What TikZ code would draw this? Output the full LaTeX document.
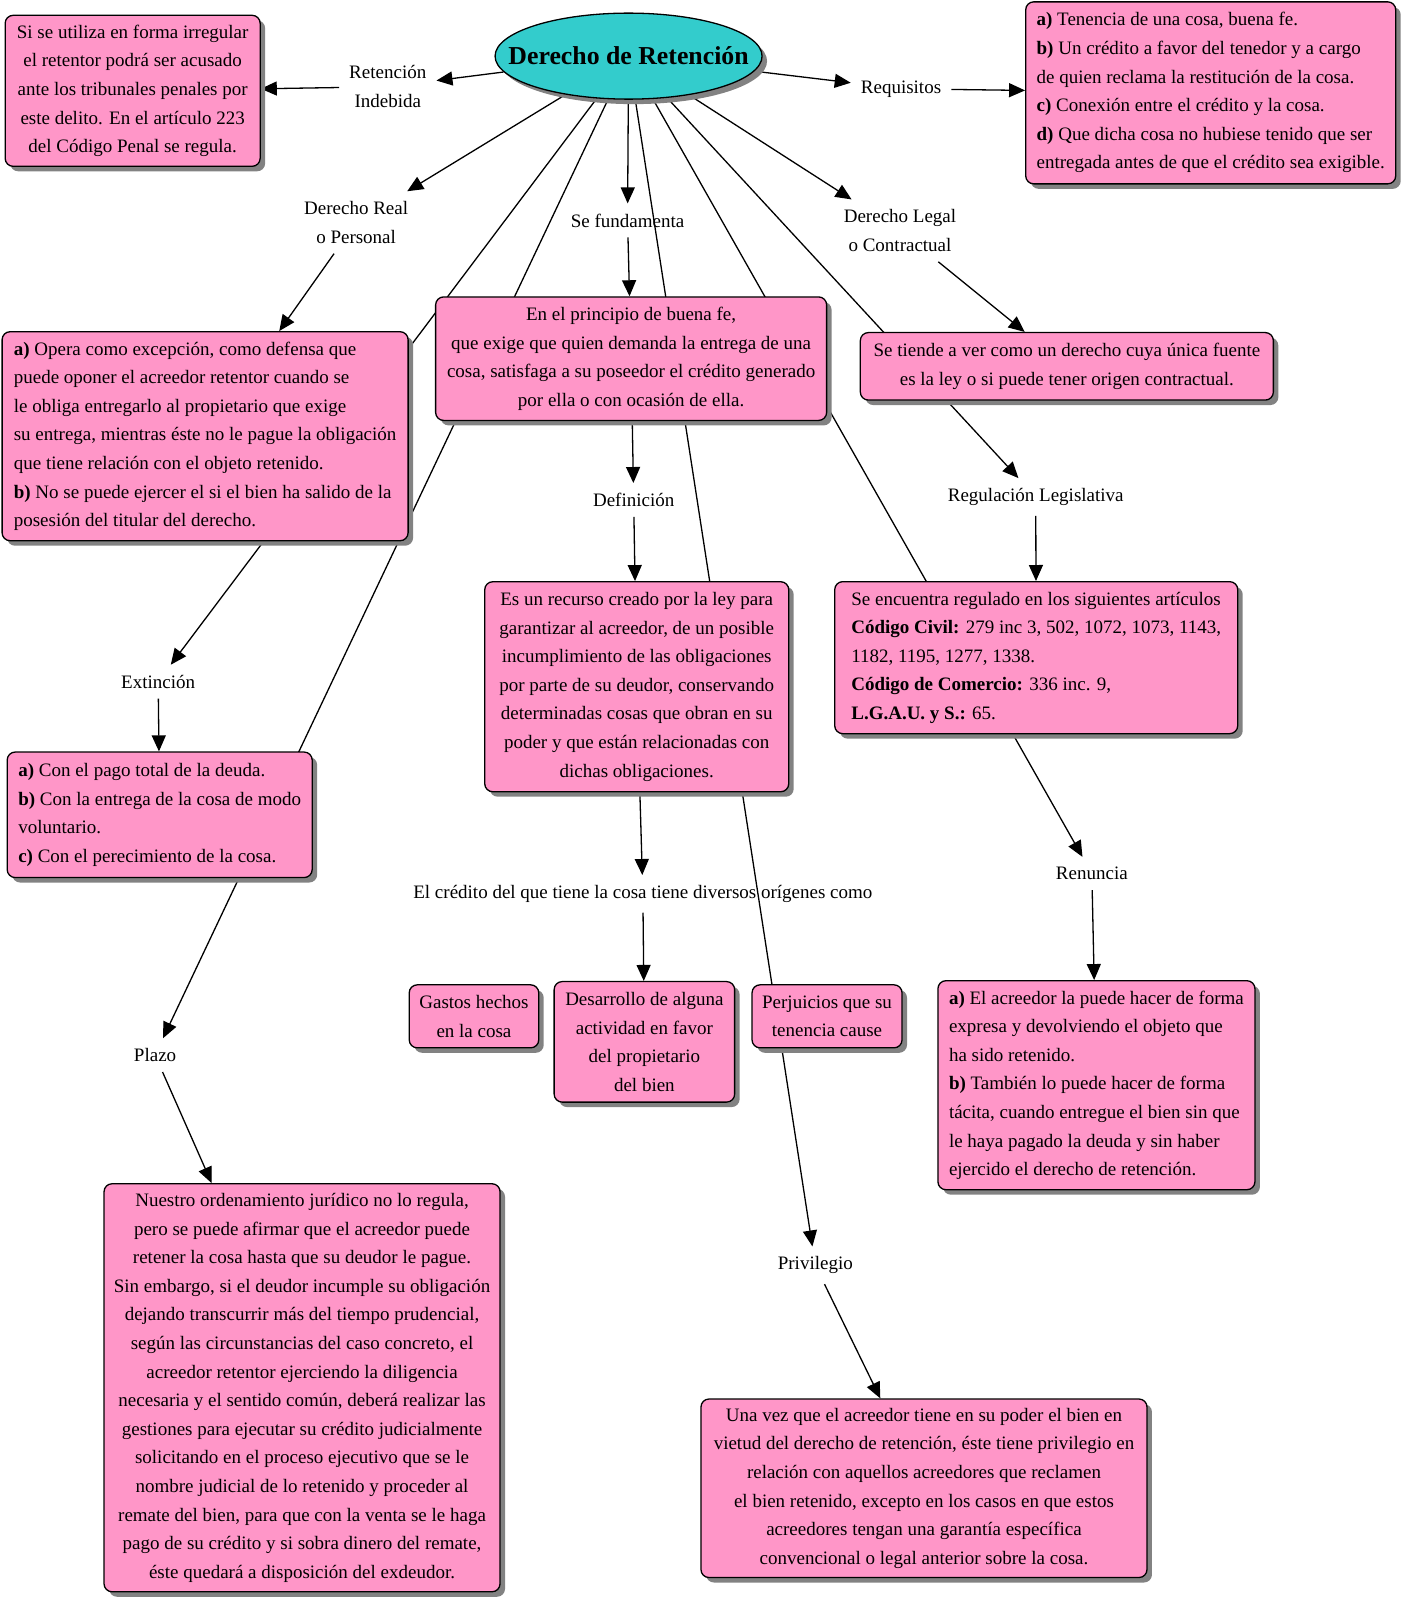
\documentclass[tikz,border=0pt]{standalone}
\usepackage{fontspec}
\setmainfont{Liberation Serif}
\usetikzlibrary{shapes.geometric,shadows,arrows.meta}
\pgfdeclarelayer{bg}
\pgfsetlayers{bg,main}
\definecolor{boxpink}{RGB}{255,150,200}
\definecolor{turq}{RGB}{51,204,204}
\definecolor{shadowgray}{RGB}{130,130,130}
\tikzset{
  txtfont/.style={font=\fontsize{19}{28.6}\selectfont},
  box/.style={draw=black, line width=1.3pt, fill=boxpink, rounded corners=8pt,
    drop shadow={shadow xshift=5pt, shadow yshift=-5pt, fill=shadowgray, opacity=1},
    inner xsep=8pt, inner ysep=4pt, txtfont},
  cbox/.style={box, align=center},
  lbox/.style={box, align=left},
  ellnode/.style={ellipse, draw=black, line width=1.3pt, fill=turq, inner sep=0pt,
    drop shadow={shadow xshift=5pt, shadow yshift=-5pt, fill=shadowgray, opacity=1},
    font=\fontsize{25.8}{28}\selectfont\bfseries},
  lab/.style={inner sep=10pt, align=center, txtfont},
  con/.style={line width=1.3pt, -{Triangle[length=16pt,width=14pt]}},
}
\begin{document}
\begin{tikzpicture}[x=1.0204pt,y=-1.0204pt]
\useasboundingbox (0,0) rectangle (1375,1568);

% central node
\node[ellnode, minimum width=267pt, minimum height=86pt] (ell) at (616,55) {\makebox[0pt][c]{Derecho de Retención}};

% boxes
\node[cbox, minimum width=255pt, minimum height=151pt] (si) at (130,89)
 {Si se utiliza en forma irregular\\el retentor podrá ser acusado\\ante los tribunales penales por\\este delito. En el artículo 223\\del Código Penal se regula.};

\node[lbox, minimum width=370pt, minimum height=182pt] (req) at (1186.5,91)
 {\textbf{a)} Tenencia de una cosa, buena fe.\\\textbf{b)} Un crédito a favor del tenedor y a cargo\\de quien reclama la restitución de la cosa.\\\textbf{c)} Conexión entre el crédito y la cosa.\\\textbf{d)} Que dicha cosa no hubiese tenido que ser\\entregada antes de que el crédito sea exigible.};

\node[lbox, minimum width=406pt, minimum height=209pt] (opera) at (201,427.5)
 {\textbf{a)} Opera como excepción, como defensa que\\puede oponer el acreedor retentor cuando se\\le obliga entregarlo al propietario que exige\\su entrega, mientras éste no le pague la obligación\\que tiene relación con el objeto retenido.\\\textbf{b)} No se puede ejercer el si el bien ha salido de la\\posesión del titular del derecho.};

\node[cbox, minimum width=391pt, minimum height=123.5pt] (fund) at (618.5,351.5)
 {En el principio de buena fe,\\que exige que quien demanda la entrega de una\\cosa, satisfaga a su poseedor el crédito generado\\por ella o con ocasión de ella.};

\node[cbox, minimum width=413pt, minimum height=67.5pt] (tiende) at (1045.5,359)
 {Se tiende a ver como un derecho cuya única fuente\\es la ley o si puede tener origen contractual.};

\node[cbox, minimum width=304pt, minimum height=210pt] (def) at (624,673)
 {Es un recurso creado por la ley para\\garantizar al acreedor, de un posible\\incumplimiento de las obligaciones\\por parte de su deudor, conservando\\determinadas cosas que obran en su\\poder y que están relacionadas con\\dichas obligaciones.};

\node[lbox, minimum width=403pt, minimum height=152pt] (regul) at (1015.5,644.5)
 {Se encuentra regulado en los siguientes artículos\\\textbf{Código Civil:} 279 inc 3, 502, 1072, 1073, 1143,\\1182, 1195, 1277, 1338.\\\textbf{Código de Comercio:} 336 inc. 9,\\\textbf{L.G.A.U. y S.:} 65.};

\node[lbox, minimum width=305pt, minimum height=125.5pt] (ext) at (156.5,798.5)
 {\textbf{a)} Con el pago total de la deuda.\\\textbf{b)} Con la entrega de la cosa de modo\\voluntario.\\\textbf{c)} Con el perecimiento de la cosa.};

\node[cbox, minimum width=129.5pt, minimum height=63pt] (gastos) at (464.5,996)
 {Gastos hechos\\en la cosa};

\node[cbox, minimum width=180.5pt, minimum height=120.5pt] (desarr) at (631.5,1021)
 {Desarrollo de alguna\\actividad en favor\\del propietario\\del bien};

\node[cbox, minimum width=150pt, minimum height=63pt] (perj) at (810.5,996)
 {Perjuicios que su\\tenencia cause};

\node[lbox, minimum width=317pt, minimum height=209pt] (renun) at (1074.5,1063.5)
 {\textbf{a)} El acreedor la puede hacer de forma\\expresa y devolviendo el objeto que\\ha sido retenido.\\\textbf{b)} También lo puede hacer de forma\\tácita, cuando entregue el bien sin que\\le haya pagado la deuda y sin haber\\ejercido el derecho de retención.};

\node[cbox, minimum width=396pt, minimum height=408pt] (nuestro) at (296,1360)
 {Nuestro ordenamiento jurídico no lo regula,\\pero se puede afirmar que el acreedor puede\\retener la cosa hasta que su deudor le pague.\\Sin embargo, si el deudor incumple su obligación\\dejando transcurrir más del tiempo prudencial,\\según las circunstancias del caso concreto, el\\acreedor retentor ejerciendo la diligencia\\necesaria y el sentido común, deberá realizar las\\gestiones para ejecutar su crédito judicialmente\\solicitando en el proceso ejecutivo que se le\\nombre judicial de lo retenido y proceder al\\remate del bien, para que con la venta se le haga\\pago de su crédito y si sobra dinero del remate,\\éste quedará a disposición del exdeudor.};

\node[cbox, minimum width=446pt, minimum height=178.5pt] (una) at (905.5,1458.5)
 {Una vez que el acreedor tiene en su poder el bien en\\vietud del derecho de retención, éste tiene privilegio en\\relación con aquellos acreedores que reclamen\\el bien retenido, excepto en los casos en que estos\\acreedores tengan una garantía específica\\convencional o legal anterior sobre la cosa.};

% labels
\node[lab] (reten) at (380,85) {Retención\\Indebida};
\node[lab] (requis) at (883,87) {Requisitos};
\node[lab] (dreal) at (349,218) {Derecho Real\\o Personal};
\node[lab] (sefund) at (615,216) {Se fundamenta};
\node[lab] (dlegal) at (882,226) {Derecho Legal\\o Contractual};
\node[lab] (defin) at (621,490) {Definición};
\node[lab] (regleg) at (1015,487) {Regulación Legislativa};
\node[lab] (extin) at (155,668) {Extinción};
\node[lab] (credito) at (630,876) {El crédito del que tiene la cosa tiene diversos orígenes como};
\node[lab] (renunc) at (1070,856) {Renuncia};
\node[lab] (plazo) at (152,1034) {Plazo};
\node[lab] (privil) at (799,1240) {Privilegio};

% connectors
\begin{pgfonlayer}{bg}
\draw[con] (ell) -- (reten);
\draw[con] (ell) -- (requis);
\draw[con] (ell) -- (dreal);
\draw[con] (ell) -- (sefund);
\draw[con] (ell) -- (dlegal);
\draw[con] (ell) -- (extin);
\draw[con] (ell) -- (plazo);
\draw[con] (ell) -- (privil);
\draw[con] (ell) -- (renunc);
\draw[con] (ell) -- (regleg);
\draw[con] (reten) -- (si);
\draw[con] (requis) -- (req);
\draw[con] (dreal) -- (opera);
\draw[con] (sefund) -- (fund);
\draw[con] (dlegal) -- (tiende);
\draw[con] (fund) -- (defin);
\draw[con] (defin) -- (def);
\draw[con] (regleg) -- (regul);
\draw[con] (extin) -- (ext);
\draw[con] (def) -- (credito);
\draw[con] (credito) -- (desarr);
\draw[con] (renunc) -- (renun);
\draw[con] (plazo) -- (nuestro);
\draw[con] (privil) -- (una);
\end{pgfonlayer}
\end{tikzpicture}
\end{document}
